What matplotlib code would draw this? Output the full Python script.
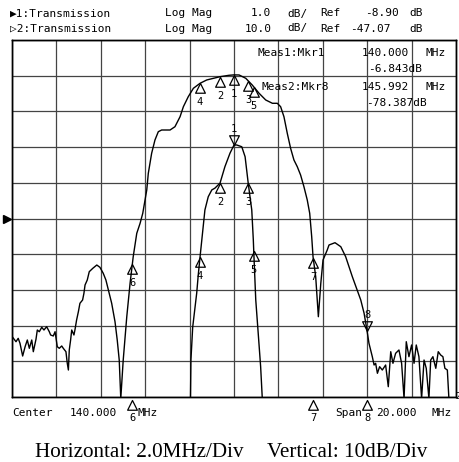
import numpy as np
import matplotlib
matplotlib.use('Agg')
import matplotlib.pyplot as plt
from matplotlib.path import Path
import matplotlib.transforms as mtransforms

# sweep settings
center_mhz = 140.0
span_mhz = 20.0
ref1, scale1 = -8.90, 1.0      # trace 1: Log Mag 1.0 dB/div
ref2, scale2 = -47.07, 10.0    # trace 2: Log Mag 10.0 dB/div

# trace 1 (passband zoom, 1 dB/div)
t1_freq = [137.98, 138.04, 138.06, 138.14, 138.32, 138.39, 138.47, 138.55, 138.69, 138.84,
           139.00, 139.14, 139.37, 139.59, 139.82, 140.00, 140.12, 140.35, 140.50, 140.57,
           140.64, 140.72, 140.80, 140.87, 140.90, 140.98, 141.09, 141.20, 141.27, 141.30]
t1_db = [-16.0, -13.90, -12.86, -11.94, -10.99, -10.48, -9.98, -9.50, -8.66, -8.29,
         -8.10, -8.05, -7.91, -7.45, -7.07, -6.843, -6.84, -6.89, -7.17, -7.54,
         -7.91, -8.29, -8.66, -9.50, -9.98, -11.18, -12.11, -13.05, -13.89, -14.3]

# trace 2 (full span, 10 dB/div)
t2_freq = [130.03, 130.18, 130.28, 130.36, 130.48, 130.59, 130.69, 130.78, 130.89, 130.96,
           131.08, 131.14, 131.23, 131.34, 131.44, 131.56, 131.68, 131.74, 131.86, 131.94,
           132.04, 132.13, 132.24, 132.31, 132.43, 132.49, 132.54, 132.58, 132.64, 132.69,
           132.79, 132.84, 132.91, 132.99, 133.06, 133.18, 133.24, 133.29, 133.39, 133.48,
           133.64, 133.82, 133.96, 134.11, 134.23, 134.34, 134.49, 134.64, 134.74, 134.83,
           134.90, 135.01, 135.17, 135.32, 135.39, 135.46, 135.62, 135.77, 135.89, 135.99,
           136.07, 136.14, 136.29, 136.44, 136.59, 136.74, 137.12, 137.34, 137.57, 137.72,
           137.94, 138.17, 138.47, 138.77, 139.07, 139.37, 139.77, 140.00, 140.23, 140.53,
           140.82, 141.13, 141.43, 141.73, 141.95, 142.10, 142.25, 142.40, 142.55, 142.70,
           142.85, 143.00, 143.15, 143.30, 143.41, 143.50, 143.56, 143.68, 143.80, 143.91,
           144.01, 144.20, 144.28, 144.55, 144.81, 145.03, 145.33, 145.55, 145.71, 145.86,
           145.99, 146.08, 146.23, 146.31, 146.38, 146.46, 146.56, 146.68, 146.83, 146.95,
           147.06, 147.16, 147.28, 147.43, 147.55, 147.66, 147.76, 147.88, 148.00, 148.11,
           148.21, 148.33, 148.45, 148.56, 148.66, 148.78, 148.86, 148.96, 149.09, 149.20,
           149.31, 149.41, 149.50, 149.61, 149.68, 150.00]
t2_db = [-80.35, -81.58, -80.63, -82.03, -85.59, -82.98, -81.10, -83.43, -81.10, -84.38,
         -80.91, -78.30, -78.78, -77.55, -78.30, -77.38, -78.78, -79.70, -79.98, -78.78,
         -82.98, -83.43, -82.78, -83.43, -84.38, -87.63, -89.51, -83.90, -81.10, -78.30,
         -79.70, -78.11, -75.50, -73.18, -70.82, -69.90, -68.02, -65.70, -64.30, -61.97,
         -61.02, -60.10, -60.74, -62.42, -64.30, -67.10, -70.82, -75.98, -81.10, -86.71,
         -97.50, -86.71, -74.58, -65.14, -61.50, -57.77, -51.22, -48.41, -45.61, -41.89,
         -39.09, -34.41, -28.81, -25.08, -22.76, -22.28, -22.28, -21.36, -18.56, -15.75,
         -12.95, -10.60, -9.20, -8.27, -7.80, -7.35, -6.96, -6.84, -6.87, -7.80,
         -9.67, -12.00, -13.88, -14.80, -14.80, -15.75, -18.56, -23.21, -27.41, -30.68,
         -32.56, -34.89, -38.16, -41.89, -45.61, -52.17, -57.77, -63.37, -74.58, -65.22,
         -58.69, -55.89, -54.49, -53.85, -54.97, -57.77, -63.37, -67.10, -69.90, -73.62,
         -78.39, -82.03, -85.78, -88.11, -87.63, -90.43, -88.58, -89.51, -88.11, -94.18,
         -84.38, -87.63, -84.83, -83.90, -87.63, -97.50, -81.58, -85.78, -82.50, -87.63,
         -82.50, -85.78, -97.50, -86.71, -89.03, -97.50, -86.71, -85.78, -89.03, -84.38,
         -85.31, -85.78, -89.03, -89.51, -97.50, -97.50]

# markers (same stimulus on both traces)
marker_ids = ['1', '2', '3', '4', '5', '6', '7', '8']
marker_freq = [140.000, 139.37, 140.64, 138.47, 140.89, 135.42, 143.57, 145.992]

W, H = 459, 462
mono = ['DejaVu Sans Mono', 'DejaVu Sans']


def px(x, y):
    return x / W, 1 - y / H


fig = plt.figure(figsize=(W / 100, H / 100), dpi=100)
ax2 = fig.add_axes([12 / W, 65 / H, 444 / W, 357 / H])
ax1 = ax2.twinx()

lo, hi = center_mhz - span_mhz / 2, center_mhz + span_mhz / 2
ax2.set_xlim(lo, hi)
ax2.set_ylim(ref2 - 5 * scale2, ref2 + 5 * scale2)
ax1.set_ylim(ref1 - 5 * scale1, ref1 + 5 * scale1)

ax2.set_xticks(np.arange(lo, hi + 0.01, span_mhz / 10))
ax2.set_yticks(ref2 + np.arange(-5, 6) * scale2)
ax2.grid(True, color='#444444', lw=0.9)
ax2.tick_params(length=0, labelbottom=False, labelleft=False)
ax1.tick_params(length=0, labelright=False)
for a in (ax1, ax2):
    for s in a.spines.values():
        s.set_color('black')
        s.set_linewidth(1.0)

ax2.plot(t2_freq, t2_db, color='black', lw=1.0)
ax1.plot(t1_freq, t1_db, color='black', lw=1.0)

# marker glyphs, apex sits on the trace point
up_tri = Path([(0, 0), (-0.5, -1), (0.5, -1), (0, 0)], closed=True)
dn_tri = Path([(0, 0), (-0.5, 1), (0.5, 1), (0, 0)], closed=True)
mk = dict(ms=14, mfc='none', mec='black', mew=0.9, ls='none')


def put_markers(ax, tf, tdb, active):
    ylo = ax.get_ylim()[0]
    for mid, f in zip(marker_ids, marker_freq):
        y = np.interp(f, tf, tdb)
        if y < ylo:
            # off scale: shown just under the graticule
            tr = mtransforms.blended_transform_factory(ax.transData, ax.transAxes)
            tr_off = mtransforms.offset_copy(tr, fig=fig, x=0, y=-3, units='dots')
            ax.plot([f], [0], marker=up_tri, transform=tr_off, clip_on=False, **mk)
            ax.annotate(mid, (f, 0), xycoords=tr, xytext=(0, -21), textcoords='offset pixels',
                        ha='center', va='center', fontsize=7.5, family=mono, annotation_clip=False)
        elif mid == active:
            ax.plot([f], [y], marker=dn_tri, **mk)
            ax.annotate(mid, (f, y), xytext=(0, 16), textcoords='offset pixels',
                        ha='center', va='center', fontsize=7.5, family=mono)
        else:
            ax.plot([f], [y], marker=up_tri, **mk)
            ax.annotate(mid, (f, y), xytext=(0, -19), textcoords='offset pixels',
                        ha='center', va='center', fontsize=7.5, family=mono)


put_markers(ax1, t1_freq, t1_db, '1')
put_markers(ax2, t2_freq, t2_db, '8')

# reference position arrow
ax2.plot([-0.011], [0.5], transform=ax2.transAxes, marker='>', ms=6, color='black', clip_on=False)

# header lines
hdr = dict(fontsize=8, family=mono, va='baseline')
fig.text(*px(10, 16.5), '\u25b61:Transmission', **hdr)
fig.text(*px(165, 16.5), 'Log Mag', **hdr)
fig.text(*px(251, 16.5), '1.0', **hdr)
fig.text(*px(287, 16.5), 'dB/', **hdr)
fig.text(*px(320, 16.5), 'Ref', **hdr)
fig.text(*px(365, 16.5), '-8.90', **hdr)
fig.text(*px(409, 16.5), 'dB', **hdr)
fig.text(*px(10, 31.5), '\u25b72:Transmission', **hdr)
fig.text(*px(165, 31.5), 'Log Mag', **hdr)
fig.text(*px(245, 31.5), '10.0', **hdr)
fig.text(*px(287, 31.5), 'dB/', **hdr)
fig.text(*px(320, 31.5), 'Ref', **hdr)
fig.text(*px(350, 31.5), '-47.07', **hdr)
fig.text(*px(409, 31.5), 'dB', **hdr)

# marker readouts
fig.text(*px(258, 55.5), 'Meas1:Mkr1', **hdr)
fig.text(*px(362, 55.5), '140.000', **hdr)
fig.text(*px(425, 55.5), 'MHz', **hdr)
fig.text(*px(368, 71.5), '-6.843dB', **hdr)
fig.text(*px(262, 90.5), 'Meas2:Mkr8', **hdr)
fig.text(*px(362, 90.5), '145.992', **hdr)
fig.text(*px(426, 90.5), 'MHz', **hdr)
fig.text(*px(366, 106.5), '-78.387dB', **hdr)

# footer
fig.text(*px(12, 415.5), 'Center', **hdr)
fig.text(*px(70, 415.5), '140.000', **hdr)
fig.text(*px(137, 415.5), 'MHz', **hdr)
fig.text(*px(335, 415.5), 'Span', **hdr)
fig.text(*px(376, 415.5), '20.000', **hdr)
fig.text(*px(431, 415.5), 'MHz', **hdr)
fig.text(*px(455, 399), '2', fontsize=6, family=mono, va='baseline')

cap = dict(fontsize=15.2, family='Liberation Serif', va='baseline')
fig.text(*px(35, 457), 'Horizontal: 2.0MHz/Div', **cap)
fig.text(*px(267, 457), 'Vertical: 10dB/Div', **cap)

fig.savefig('out.png', dpi=100)
